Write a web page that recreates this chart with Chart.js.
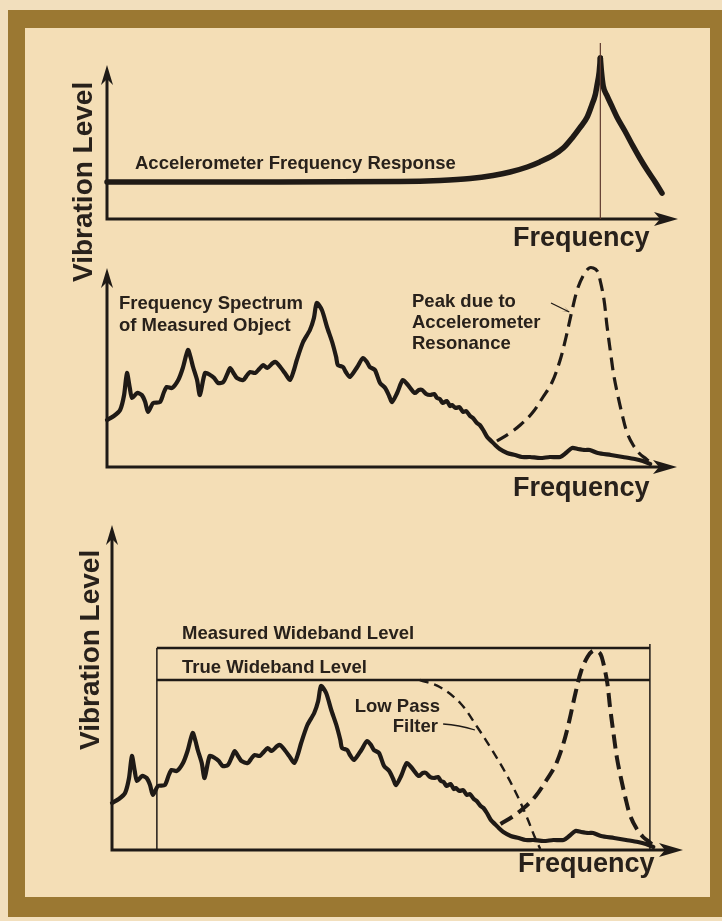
<!DOCTYPE html>
<html>
<head>
<meta charset="utf-8">
<script src="https://cdn.jsdelivr.net/npm/chart.js@4.4.1/dist/chart.umd.min.js"></script>
<style>
html,body{margin:0;padding:0;background:#f2dfbd;}
#page{position:relative;width:722px;height:921px;overflow:hidden;background:#f2dfbd;}
#frame{position:absolute;left:8px;top:10px;width:714px;height:907px;box-sizing:border-box;
  border-style:solid;border-color:#9b7832;border-width:18px 12px 20px 17px;background:#f4deb6;}
canvas{position:absolute;left:0;top:0;}
.t{position:absolute;font-family:"Liberation Sans",Arial,Helvetica,sans-serif;font-weight:bold;color:#28211b;line-height:1;white-space:nowrap;}
.v{transform-origin:0 0;transform:rotate(-90deg);}
</style>
</head>
<body>
<div id="page">
  <div id="frame"></div>
  <canvas id="c1" width="722" height="921"></canvas>
  <canvas id="c2" width="722" height="921"></canvas>
  <canvas id="c3" width="722" height="921"></canvas>

  <div class="t v" style="left:69.3px;top:282px;font-size:28px">Vibration Level</div>
  <div class="t v" style="left:76.3px;top:750px;font-size:28px">Vibration Level</div>

  <div class="t" style="left:135px;top:154.3px;font-size:18.5px">Accelerometer Frequency Response</div>
  <div class="t" style="left:513px;top:224.1px;font-size:27px">Frequency</div>

  <div class="t" style="left:119px;top:294.3px;font-size:18.5px">Frequency Spectrum</div>
  <div class="t" style="left:119px;top:316.3px;font-size:18.5px">of Measured Object</div>
  <div class="t" style="left:412px;top:292.3px;font-size:18.5px">Peak due to</div>
  <div class="t" style="left:412px;top:313.3px;font-size:18.5px">Accelerometer</div>
  <div class="t" style="left:412px;top:334.3px;font-size:18.5px">Resonance</div>
  <div class="t" style="left:513px;top:474.1px;font-size:27px">Frequency</div>

  <div class="t" style="left:182px;top:624.3px;font-size:18.5px">Measured Wideband Level</div>
  <div class="t" style="left:182px;top:658.3px;font-size:18.5px">True Wideband Level</div>
  <div class="t" style="right:282px;top:697.3px;font-size:18.5px">Low Pass</div>
  <div class="t" style="right:284px;top:717.3px;font-size:18.5px">Filter</div>
  <div class="t" style="left:518px;top:850.1px;font-size:27px">Frequency</div>
</div>
<script>
// ---------- data (frequency and vibration level in relative units) ----------
// accelerometer response: rising flank up to the resonance, then falling flank
const RESPONSE_RISE_X = [0,25.0,51.3,58.3,63.6,67.6,70.6,73.6,75.8,78.1,79.9,81.6,82.8,84.1,84.9,85.5,85.8,86.2,86.4];
const RESPONSE_RISE_Y = [20.6,20.6,20.8,21.4,22.5,24.2,26.1,28.9,31.7,35.3,39.4,45.6,50.6,56.7,63.3,68.9,73.9,81.7,89.4];
const RESPONSE_FALL_X = [86.4,86.6,86.9,87.6,88.4,89.3,90.7,92.1,93.3,94.6,96.0,97.2];
const RESPONSE_FALL_Y = [89.4,81.7,73.9,68.3,62.8,56.7,48.9,40.6,33.9,27.2,20.6,14.4];
const RESONANCE_FREQ = 86.4;
const RESONANCE_MARK_TOP = 97.8;

const SPECTRUM_X = [0,1.2,2.3,3.0,3.5,4.0,4.4,5.3,6.1,6.7,7.2,8.1,9.3,10.0,10.5,11.4,12.5,13.3,14.2,14.7,
  15.1,15.8,16.3,17.2,18.1,18.8,19.5,20.4,21.1,21.6,22.3,22.8,23.9,24.6,25.1,26.0,26.7,27.4,28.1,29.1,
  29.6,30.4,31.2,32.1,32.8,33.3,34.4,35.6,36.3,36.8,37.7,38.6,39.5,40.2,40.5,41.4,41.9,42.6,43.9,44.9,
  45.6,46.1,47.0,47.9,48.8,49.5,50.0,50.9,51.9,52.8,54.0,54.7,55.3,56.0,56.7,57.4,57.9,
  58.4,58.9,59.6,60.2,60.5,61.2,61.8,62.5,63.0,63.7,64.2,64.9,65.4,66.0,66.7,67.4,68.1,68.9,70.2,71.6,
  72.8,74.2,76.0,77.7,79.5,80.5,81.6,82.6,83.9,84.7,86.1,88.4,90.5,92.6,94.0,95.3];
const SPECTRUM_Y = [23.5,25.5,28.5,36,47,39.5,34.5,37,36,32.5,27.5,32,32.5,37.5,40,39.5,43.5,49.5,58.5,54.5,
  50,43.5,36,47,46,44.5,42,42.5,46.5,49.5,46.5,44.5,43.5,46,47.5,47,49,51,49.5,52,
  52.5,50,47,43.5,48.5,53.5,62.5,68.5,74.5,82,78.5,70,62.5,55,51,50,47.5,45,50,54.5,
  52.5,50,48.5,42,39.5,35.5,32.5,37,43.5,41,37,38.5,38.5,36.5,36,36.5,34.5,
  34,32,33,30.5,31,29.5,30,27.5,28,25.5,24.5,22,21,18.5,15,13,11,9,7,6,
  5,5,4.5,5,5,7,9.5,9,8.5,8.5,7,6,5,4,3,1.5];

const PEAK_X = [68.4,70.7,72.5,74.6,76.5,78.1,79.5,80.5,81.6,82.6,83.7,84.6,85.3,86.0,86.5,87.2,87.7,88.4,88.9,89.6,90.4,91.2,92.3,93.5,94.6,95.6];
const PEAK_Y = [13,17,21,27,35,42.5,53.5,64.5,78.5,89.5,96.5,99.5,99.5,98,93.5,83.5,71,56,46,36,26,17.5,11,6.5,4,1.5];

const LOWPASS_X = [54.2,57.7,61.3,64.3,66.9,69.2,71.3,73.1,74.5,75.4];
const LOWPASS_Y = [85,81.5,73.5,61.5,50,39,27.5,16,6,0.5];

const BAND_EDGES = [7.9, 94.7];
const MEASURED_LEVEL = 101;
const TRUE_LEVEL = 85;

// ---------- drawing helpers ----------
const INK = '#1f1a16';

function arrowHead(ctx, tx, ty, dx, dy, len, hw) {
  const nx = -dy, ny = dx;
  ctx.beginPath();
  ctx.moveTo(tx, ty);
  ctx.lineTo(tx - dx*len + nx*hw, ty - dy*len + ny*hw);
  ctx.lineTo(tx - dx*(len-6), ty - dy*(len-6));
  ctx.lineTo(tx - dx*len - nx*hw, ty - dy*len - ny*hw);
  ctx.closePath();
  ctx.fill();
}

const sketchAxes = {
  id: 'sketchAxes',
  beforeDatasetsDraw(chart, args, o) {
    const {ctx, chartArea: a, scales: {x, y}} = chart;
    const ox = x.getPixelForValue(0), oy = y.getPixelForValue(0);
    const ty = y.getPixelForValue(o.yTip), tx = a.right + (o.xExtra || 0);
    ctx.save();
    ctx.strokeStyle = INK; ctx.fillStyle = INK; ctx.lineWidth = 3; ctx.lineJoin = 'miter';
    ctx.beginPath();
    ctx.moveTo(ox, ty + 12); ctx.lineTo(ox, oy); ctx.lineTo(tx - 12, oy);
    ctx.stroke();
    arrowHead(ctx, ox, ty, 0, -1, 20, 6);
    arrowHead(ctx, tx, oy, 1, 0, 24, 7);
    ctx.restore();
  },
  afterDatasetsDraw(chart, args, o) {
    const {ctx, scales: {x, y}} = chart;
    (o.leaders || []).forEach(l => {
      const x1 = x.getPixelForValue(l.from[0]), y1 = y.getPixelForValue(l.from[1]);
      const x2 = x.getPixelForValue(l.to[0]), y2 = y.getPixelForValue(l.to[1]);
      ctx.save();
      ctx.strokeStyle = INK; ctx.fillStyle = INK; ctx.lineWidth = 1.3;
      ctx.beginPath();
      ctx.moveTo(x1, y1);
      const mx = (x1 + x2) / 2, my = (y1 + y2) / 2 - (l.bend || 0);
      ctx.quadraticCurveTo(mx, my, x2, y2);
      ctx.stroke();
      if (l.head) {
        const d = Math.hypot(x2 - x1, y2 - y1);
        arrowHead(ctx, x2, y2, (x2 - x1) / d, (y2 - y1) / d, 7, 3);
      }
      ctx.restore();
    });
  }
};

function series(X, Y, style) {
  return Object.assign({
    data: X.map((v, i) => ({x: v, y: Y[i]})),
    pointRadius: 0, borderColor: INK, borderWidth: 4.2, fill: false, tension: 0,
    borderJoinStyle: 'round', borderCapStyle: 'round', clip: false
  }, style || {});
}
function segment(x1, y1, x2, y2, style) {
  return series([x1, x2], [y1, y2], Object.assign({borderCapStyle: 'butt'}, style));
}
function options(pad, yMax, axes) {
  return {
    responsive: false, animation: false, devicePixelRatio: 1, events: [],
    layout: {padding: pad},
    scales: {
      x: {type: 'linear', min: 0, max: 100, display: false},
      y: {type: 'linear', min: 0, max: yMax, display: false}
    },
    plugins: {legend: {display: false}, tooltip: {enabled: false}, sketchAxes: axes}
  };
}

// ---------- panel 1: accelerometer frequency response ----------
new Chart(document.getElementById('c1'), {
  type: 'line',
  data: {datasets: [
    segment(RESONANCE_FREQ, 0, RESONANCE_FREQ, RESONANCE_MARK_TOP, {borderWidth: 1.2, borderColor: '#5e3a2e'}),
    series(RESPONSE_RISE_X, RESPONSE_RISE_Y, {borderWidth: 5.5, cubicInterpolationMode: 'monotone'}),
    series(RESPONSE_FALL_X, RESPONSE_FALL_Y, {borderWidth: 5.5, cubicInterpolationMode: 'monotone'})
  ]},
  options: options({left: 107, right: 44, top: 39, bottom: 702}, 100, {yTip: 85.6, xExtra: 0}),
  plugins: [sketchAxes]
});

// ---------- panel 2: measured spectrum with resonance peak ----------
new Chart(document.getElementById('c2'), {
  type: 'line',
  data: {datasets: [
    series(PEAK_X, PEAK_Y, {borderWidth: 3.2, borderDash: [13, 7], borderCapStyle: 'butt', tension: 0.35}),
    series(SPECTRUM_X, SPECTRUM_Y, {borderWidth: 4.2, tension: 0.25})
  ]},
  options: options({left: 107, right: 45, top: 247, bottom: 454}, 110,
    {yTip: 99.5, xExtra: 0, leaders: [{from: [77.9, 82], to: [81.1, 77.5], head: true}]}),
  plugins: [sketchAxes]
});

// ---------- panel 3: wideband levels and low pass filter ----------
new Chart(document.getElementById('c3'), {
  type: 'line',
  data: {datasets: [
    segment(BAND_EDGES[0], 0, BAND_EDGES[0], MEASURED_LEVEL, {borderWidth: 1.5}),
    segment(BAND_EDGES[1], 0, BAND_EDGES[1], MEASURED_LEVEL + 2, {borderWidth: 1.5}),
    segment(BAND_EDGES[0], MEASURED_LEVEL, BAND_EDGES[1], MEASURED_LEVEL, {borderWidth: 2.4}),
    segment(BAND_EDGES[0], TRUE_LEVEL, BAND_EDGES[1], TRUE_LEVEL, {borderWidth: 2.4}),
    series(LOWPASS_X, LOWPASS_Y, {borderWidth: 2.4, borderDash: [9, 6], borderCapStyle: 'butt', tension: 0.35}),
    series(PEAK_X, PEAK_Y, {borderWidth: 4, borderDash: [14, 7], borderCapStyle: 'butt', tension: 0.35}),
    series(SPECTRUM_X, SPECTRUM_Y, {borderWidth: 4.2, tension: 0.25})
  ]},
  options: options({left: 112, right: 42, top: 520, bottom: 71}, 165,
    {yTip: 162.5, xExtra: 3, leaders: [{from: [58.3, 63], to: [63.9, 60], bend: 2}]}),
  plugins: [sketchAxes]
});
</script>
</body>
</html>
